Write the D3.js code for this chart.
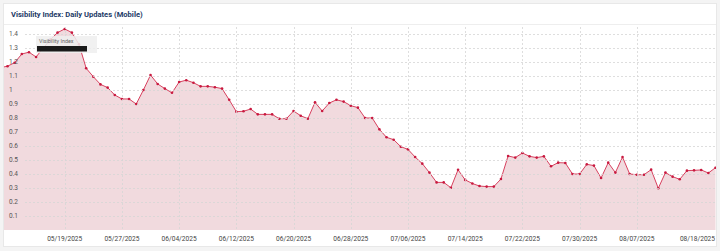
<!DOCTYPE html>
<html>
<head>
<meta charset="utf-8">
<script src="https://cdn.jsdelivr.net/npm/d3@7.9.0/dist/d3.min.js"></script>
<style>
  body { margin: 0; background: #f4f4f4; font-family: Roboto, 'Noto Sans', sans-serif; }
  svg { display: block; }
</style>
</head>
<body>
<div id="chart"></div>
<script>
// daily values, 05/10/2025 .. 08/18/2025 (first point sits left of the plot edge)
const startDate = '2025-05-10';
const visibility = [
  1.16,
  1.17, 1.195, 1.257, 1.27, 1.236, 1.30, 1.36, 1.41, 1.436, 1.41,
  1.326, 1.155, 1.095, 1.04, 1.017, 0.964, 0.936, 0.936, 0.90, 1.0,
  1.107, 1.043, 1.01, 0.98, 1.057, 1.07, 1.052, 1.026, 1.026, 1.02,
  1.01, 0.93, 0.845, 0.848, 0.864, 0.826, 0.826, 0.826, 0.795, 0.795,
  0.85, 0.816, 0.795, 0.912, 0.85, 0.907, 0.93, 0.917, 0.888, 0.874,
  0.80, 0.80, 0.719, 0.662, 0.645, 0.595, 0.576, 0.521, 0.474, 0.41,
  0.34, 0.34, 0.302, 0.43, 0.358, 0.332, 0.314, 0.31, 0.31, 0.364,
  0.529, 0.517, 0.55, 0.526, 0.517, 0.526, 0.455, 0.481, 0.479, 0.40,
  0.40, 0.469, 0.46, 0.371, 0.481, 0.41, 0.521, 0.40, 0.395, 0.395,
  0.431, 0.298, 0.41, 0.381, 0.362, 0.424, 0.426, 0.429, 0.407, 0.445
];
const xTickDates = ['2025-05-19', '2025-05-27', '2025-06-04', '2025-06-12', '2025-06-20',
  '2025-06-28', '2025-07-06', '2025-07-14', '2025-07-22', '2025-07-30', '2025-08-07', '2025-08-18'];
const yTicks = [0.1, 0.2, 0.3, 0.4, 0.5, 0.6, 0.7, 0.8, 0.9, 1, 1.1, 1.2, 1.3, 1.4];

const parse = d3.timeParse('%Y-%m-%d');
const t0 = parse(startDate);
const data = visibility.map((v, i) => ({ date: d3.timeDay.offset(t0, i), value: v }));

const width = 720, height = 251;
const plot = { left: 4, right: 716, top: 27, bottom: 230 };

const svg = d3.select('#chart').append('svg')
  .attr('width', width)
  .attr('height', height);

// card
svg.append('rect')
  .attr('x', 3.5).attr('y', 3.5)
  .attr('width', 713).attr('height', 243)
  .attr('fill', '#fff')
  .attr('stroke', '#e8e8e8');

svg.append('text')
  .attr('x', 11).attr('y', 17)
  .attr('font-size', 7.6)
  .attr('font-weight', 700)
  .attr('fill', '#1d3a66')
  .text('Visibility Index: Daily Updates (Mobile)');

svg.append('line')
  .attr('x1', 4).attr('x2', 716)
  .attr('y1', 24.5).attr('y2', 24.5)
  .attr('stroke', '#eeeeee');

const xScale = d3.scaleTime()
  .domain([parse('2025-05-11'), parse('2025-08-18')])
  .range([7.5, 715.5]);

const yScale = d3.scaleLinear()
  .domain([0, 1.5])
  .range([230, 20]);

svg.append('defs').append('clipPath').attr('id', 'plot-clip')
  .append('rect')
  .attr('x', plot.left).attr('y', plot.top - 5)
  .attr('width', plot.right - plot.left).attr('height', plot.bottom - plot.top + 5);

const g = svg.append('g').attr('clip-path', 'url(#plot-clip)');

const area = d3.area()
  .x((d) => xScale(d.date))
  .y0(yScale(0))
  .y1((d) => yScale(d.value));

const line = d3.line()
  .x((d) => xScale(d.date))
  .y((d) => yScale(d.value));

g.append('path')
  .datum(data)
  .attr('d', area)
  .attr('fill', '#f1dade');

// gridlines
svg.append('g')
  .selectAll('line')
  .data(yTicks)
  .join('line')
  .attr('x1', 25).attr('x2', plot.right)
  .attr('y1', (d) => Math.round(yScale(d)) + 0.5)
  .attr('y2', (d) => Math.round(yScale(d)) + 0.5)
  .attr('stroke', '#d6d6d6')
  .attr('stroke-dasharray', '2,2')
  .attr('stroke-width', 0.8);

svg.append('g')
  .selectAll('line')
  .data(xTickDates.slice(0, -1).map(parse))
  .join('line')
  .attr('x1', (d) => Math.round(xScale(d)) + 0.5)
  .attr('x2', (d) => Math.round(xScale(d)) + 0.5)
  .attr('y1', plot.top).attr('y2', plot.bottom)
  .attr('stroke', '#d6d6d6')
  .attr('stroke-dasharray', '2,2')
  .attr('stroke-width', 0.8);

g.append('path')
  .datum(data)
  .attr('d', line)
  .attr('fill', 'none')
  .attr('stroke', '#d8415f')
  .attr('stroke-width', 1);

g.selectAll('circle')
  .data(data)
  .join('circle')
  .attr('cx', (d) => xScale(d.date))
  .attr('cy', (d) => yScale(d.value))
  .attr('r', 1.3)
  .attr('fill', '#c8193f');

// y labels
svg.append('g')
  .selectAll('text')
  .data(yTicks)
  .join('text')
  .attr('x', 9)
  .attr('y', (d) => yScale(d) + 2.3)
  .attr('font-size', 6.5)
  .attr('fill', '#555')
  .text((d) => d3.format('~g')(d));

// x labels
const fmt = d3.timeFormat('%m/%d/%Y');
svg.append('g')
  .selectAll('text')
  .data(xTickDates.map(parse))
  .join('text')
  .attr('x', (d, i) => i === xTickDates.length - 1 ? 715 : xScale(d))
  .attr('y', 240.5)
  .attr('text-anchor', (d, i) => i === xTickDates.length - 1 ? 'end' : 'middle')
  .attr('font-size', 6.6)
  .attr('fill', '#444')
  .text((d) => fmt(d));

// tooltip
const tip = svg.append('g');
tip.append('rect')
  .attr('x', 36).attr('y', 36)
  .attr('width', 61).attr('height', 17)
  .attr('fill', 'rgba(238,238,238,0.85)');
tip.append('text')
  .attr('x', 39).attr('y', 42.5)
  .attr('font-size', 5.4)
  .attr('fill', '#666')
  .text('Visibility Index');
tip.append('rect')
  .attr('x', 37).attr('y', 46)
  .attr('width', 50).attr('height', 5.5)
  .attr('fill', '#1a1a1a');
</script>
</body>
</html>
